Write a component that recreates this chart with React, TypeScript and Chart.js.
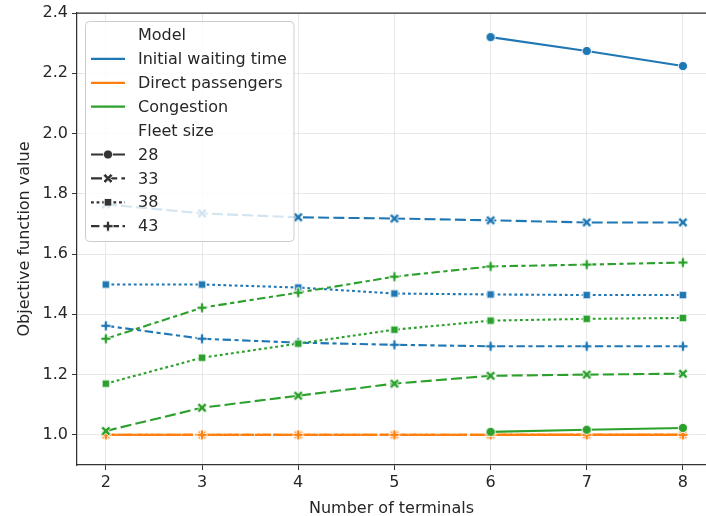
import React, { useEffect, useRef } from 'react';
import { Chart, registerables } from 'chart.js';
Chart.register(...registerables);

const terminals = [2, 3, 4, 5, 6, 7, 8];
const models = ['Initial waiting time', 'Direct passengers', 'Congestion'];
const modelColors = ['#1f77b4', '#ff7f0e', '#2ca02c'];
const fleetSizes = ['28', '33', '38', '43'];

const iwt28 = [null, null, null, null, 2.32, 2.274, 2.224];
const iwt33 = [1.765, 1.735, 1.722, 1.718, 1.712, 1.705, 1.705];
const iwt38 = [1.499, 1.499, 1.489, 1.469, 1.466, 1.464, 1.464];
const iwt43 = [1.362, 1.319, 1.306, 1.299, 1.294, 1.294, 1.294];

const dp28 = [null, null, null, null, 1.0, 1.0, 1.0];
const dp33 = [1.0, 1.0, 1.0, 1.0, 1.0, 1.0, 1.0];
const dp38 = [1.0, 1.0, 1.0, 1.0, 1.0, 1.0, 1.0];
const dp43 = [1.0, 1.0, 1.0, 1.0, 1.0, 1.0, 1.0];

const cg28 = [null, null, null, null, 1.01, 1.017, 1.023];
const cg33 = [1.013, 1.09, 1.13, 1.17, 1.196, 1.2, 1.203];
const cg38 = [1.17, 1.256, 1.303, 1.349, 1.379, 1.385, 1.388];
const cg43 = [1.319, 1.422, 1.472, 1.525, 1.559, 1.565, 1.572];

const yTicks = [1.0, 1.2, 1.4, 1.6, 1.8, 2.0, 2.2, 2.4];
const xTicks = [2, 3, 4, 5, 6, 7, 8];

const series = [
  [iwt28, iwt33, iwt38, iwt43],
  [dp28, dp33, dp38, dp43],
  [cg28, cg33, cg38, cg43],
];

const DASHES = [[], [11, 4.2], [2.8, 2.8], [8.4, 3.5, 4.2, 3.5]];
const MARKERS = ['circle', 'x', 'square', 'plus'];
const TEXT = '#262626';
const SPINE = '#333333';
const FONT = '"DejaVu Sans", sans-serif';

function markerPath(g: CanvasRenderingContext2D, shape: string) {
  g.beginPath();
  if (shape === 'circle') {
    g.arc(0, 0, 4.6, 0, Math.PI * 2);
  } else if (shape === 'square') {
    g.rect(-3.8, -3.8, 7.6, 7.6);
  } else {
    const a = shape === 'x' ? 5.4 : 5;
    const t = 1.6;
    if (shape === 'x') g.rotate(Math.PI / 4);
    const pts = [
      [-t, -a], [t, -a], [t, -t], [a, -t], [a, t], [t, t],
      [t, a], [-t, a], [-t, t], [-a, t], [-a, -t], [-t, -t],
    ];
    g.moveTo(pts[0][0], pts[0][1]);
    for (let i = 1; i < pts.length; i++) g.lineTo(pts[i][0], pts[i][1]);
  }
  g.closePath();
}

function makeMarker(shape: string, color: string) {
  const c = document.createElement('canvas');
  c.width = 16;
  c.height = 16;
  const g = c.getContext('2d')!;
  g.translate(8, 8);
  g.fillStyle = color;
  g.strokeStyle = '#ffffff';
  g.lineWidth = 0.9;
  markerPath(g, shape);
  g.fill();
  g.stroke();
  return c;
}

const topSpinePlugin = {
  id: 'topSpine',
  afterDatasetsDraw(chart: any) {
    const { ctx, chartArea } = chart;
    ctx.save();
    ctx.strokeStyle = SPINE;
    ctx.lineWidth = 1.25;
    ctx.beginPath();
    ctx.moveTo(chartArea.left, chartArea.top);
    ctx.lineTo(chartArea.right, chartArea.top);
    ctx.stroke();
    ctx.restore();
  },
};

const legendPlugin = {
  id: 'seabornLegend',
  afterDatasetsDraw(chart: any) {
    const { ctx } = chart;
    ctx.save();
    const bx = 85.5, by = 21.5, bw = 208.5, bh = 220;
    ctx.beginPath();
    (ctx as any).roundRect(bx, by, bw, bh, 4);
    ctx.fillStyle = 'rgba(255,255,255,0.8)';
    ctx.fill();
    ctx.strokeStyle = '#cccccc';
    ctx.lineWidth = 1;
    ctx.stroke();

    const rows: any[] = [];
    rows.push({ label: 'Model' });
    models.forEach((m, i) => rows.push({ label: m, color: modelColors[i] }));
    rows.push({ label: 'Fleet size' });
    fleetSizes.forEach((f, i) => rows.push({ label: f, dash: DASHES[i], marker: MARKERS[i] }));

    ctx.font = `16px ${FONT}`;
    ctx.textBaseline = 'middle';
    ctx.textAlign = 'left';
    rows.forEach((r, i) => {
      const y = 35 + i * 23.9;
      if (r.color || r.marker) {
        ctx.save();
        ctx.strokeStyle = r.color || SPINE;
        ctx.lineWidth = 2.2;
        ctx.setLineDash(r.dash || []);
        ctx.beginPath();
        ctx.moveTo(91, y);
        ctx.lineTo(125, y);
        ctx.stroke();
        ctx.restore();
        if (r.marker) {
          ctx.save();
          ctx.translate(108, y);
          ctx.fillStyle = SPINE;
          ctx.strokeStyle = '#ffffff';
          ctx.lineWidth = 0.9;
          markerPath(ctx, r.marker);
          ctx.fill();
          ctx.stroke();
          ctx.restore();
        }
      }
      ctx.fillStyle = TEXT;
      ctx.fillText(r.label, 138, y + 1);
    });
    ctx.restore();
  },
};

export default function App() {
  const ref = useRef<HTMLCanvasElement>(null);
  useEffect(() => {
    document.body.style.margin = '0';
    const datasets: any[] = [];
    let idx = 0;
    series.forEach((group, m) => {
      group.forEach((vals, f) => {
        const data = terminals
          .map((t, i) => (vals[i] == null ? null : { x: t, y: vals[i] }))
          .filter((p) => p !== null);
        datasets.push({
          label: `${models[m]} ${fleetSizes[f]}`,
          data,
          borderColor: modelColors[m],
          backgroundColor: modelColors[m],
          borderWidth: 2.1,
          borderDash: DASHES[f],
          pointStyle: makeMarker(MARKERS[f], modelColors[m]),
          pointRadius: 5,
          pointHoverRadius: 5,
          tension: 0,
          fill: false,
          order: 100 - idx,
        });
        idx++;
      });
    });

    const tickFont = { family: FONT, size: 16 };
    const chart = new Chart(ref.current!, {
      type: 'line',
      data: { datasets },
      options: {
        animation: false,
        responsive: false,
        events: [],
        layout: { padding: { top: 13, left: 0, right: 0, bottom: 0 }, autoPadding: false },
        plugins: { legend: { display: false }, tooltip: { enabled: false } },
        scales: {
          x: {
            type: 'linear',
            min: 1.7,
            max: 8.24,
            afterBuildTicks: (s: any) => {
              s.ticks = xTicks.map((v) => ({ value: v }));
            },
            afterFit: (s: any) => {
              s.height = 51;
              s.paddingLeft = 0;
              s.paddingRight = 0;
            },
            ticks: {
              font: tickFont,
              color: TEXT,
              padding: 3,
              maxRotation: 0,
              autoSkip: false,
              callback: (v: any) => String(v),
            },
            grid: { color: '#e8e8e8', tickColor: SPINE, tickLength: 5, lineWidth: 1 },
            border: { color: SPINE, width: 1.25 },
            title: {
              display: true,
              text: 'Number of terminals',
              font: tickFont,
              color: TEXT,
              padding: { top: 0, bottom: -2 },
            },
          },
          y: {
            type: 'linear',
            min: 0.9,
            max: 2.4,
            afterBuildTicks: (s: any) => {
              s.ticks = yTicks.map((v) => ({ value: v }));
            },
            afterFit: (s: any) => {
              s.width = 77;
              s.paddingTop = 0;
              s.paddingBottom = 0;
            },
            ticks: {
              font: tickFont,
              color: TEXT,
              padding: 4,
              callback: (v: any) => Number(v).toFixed(1),
            },
            grid: { color: '#e8e8e8', tickColor: SPINE, tickLength: 5, lineWidth: 1 },
            border: { color: SPINE, width: 1.25 },
            title: {
              display: true,
              text: 'Objective function value',
              font: tickFont,
              color: TEXT,
              padding: { top: 15, bottom: 0 },
            },
          },
        },
      },
      plugins: [topSpinePlugin, legendPlugin],
    });
    return () => chart.destroy();
  }, []);
  return (
    <div style={{ width: 706, height: 516 }}>
      <canvas ref={ref} width={706} height={516} style={{ display: 'block' }} />
    </div>
  );
}
